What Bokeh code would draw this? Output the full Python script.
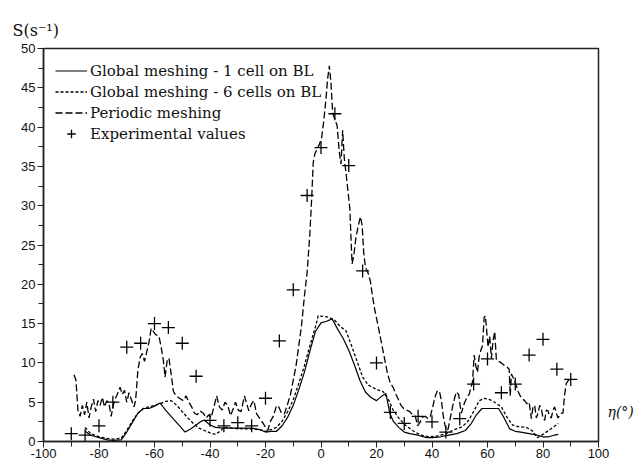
from bokeh.plotting import figure
from bokeh.models import Range1d, FixedTicker, Legend, LegendItem, LinearAxis, Title
from bokeh.embed import file_html
from bokeh.resources import INLINE

# ---------------- data ----------------
exp_x = [-90, -85, -80, -75, -70, -65, -60, -55, -50, -45, -40, -35, -30, -25, -20, -15, -10, -5,
         0, 5, 10, 15, 20, 25, 30, 35, 40, 45, 50, 55, 60, 65, 70, 75, 80, 85, 90]
exp_y = [1.0, 0.8, 2.0, 5.0, 12.0, 12.5, 15.0, 14.5, 12.5, 8.3, 2.7, 2.0, 2.4, 2.0, 5.5, 12.8, 19.3, 31.3,
         37.4, 41.7, 35.1, 21.7, 10.0, 3.7, 2.3, 3.2, 2.5, 1.2, 2.9, 7.3, 10.5, 6.2, 7.3, 11.0, 13.0, 9.2, 7.9]

g1_x = [-85, -83, -80, -77, -75, -72, -70, -68, -66, -64, -62, -60, -58, -56, -54, -52, -50, -49, -47,
        -45, -43, -42, -40, -38, -35, -30, -25, -22, -20, -18, -16, -14, -12, -10, -8, -6, -4, -2, 0, 2,
        4, 6, 8, 10, 12, 14, 16, 18, 20, 22, 23.4, 24.8, 26, 28, 30, 32, 35, 38, 40, 43, 46, 49, 52, 54,
        56, 58, 61, 64, 66, 68, 70, 72, 75, 78, 80, 82, 84, 85.5]
g1_y = [1.3, 0.8, 0.5, 0.2, 0.15, 0.2, 1.2, 2.4, 3.6, 4.2, 4.2, 4.5, 4.9, 4.0, 3.2, 2.4, 1.6, 1.2, 1.6,
        2.1, 2.6, 2.7, 2.1, 1.8, 1.7, 1.7, 1.7, 1.5, 1.2, 1.3, 1.3, 2.0, 3.1, 4.6, 6.6, 8.8, 11.5, 14.0, 15.1, 15.3,
        15.6, 14.3, 13.1, 11.6, 9.8, 7.8, 6.3, 5.6, 5.2, 5.8, 6.1, 3.6, 2.6, 1.8, 1.2, 1.0, 0.8, 0.5, 0.5, 0.6, 0.8, 1.0, 1.4, 2.2,
        3.4, 4.2, 4.2, 4.2, 3.0, 1.6, 1.3, 1.2, 1.0, 0.8, 0.6, 0.6, 0.8, 0.9]

g6_x = [-85, -83, -80, -77, -75, -72, -70, -68, -66, -64, -62, -60, -58, -56, -54, -52, -50, -48, -46,
        -44, -42, -40, -38, -36, -35, -32, -28, -25, -22, -20, -18, -16, -14, -12, -10, -8, -6, -4, -2, -1,
        1, 3, 5, 7, 9, 11, 13, 15, 17, 19, 21, 22.5, 24.5, 26, 28, 30, 33, 36, 39, 42, 45, 48, 51, 53,
        55, 57, 59, 61, 63, 65, 67, 69, 71, 74, 76, 78, 80, 82, 84, 85.5]
g6_y = [1.8, 1.0, 0.6, 0.4, 0.3, 0.4, 1.4, 2.6, 3.6, 4.2, 4.4, 4.6, 4.8, 5.1, 5.2, 4.6, 3.8, 3.0, 2.3,
        1.7, 1.4, 1.1, 0.9, 1.4, 1.8, 1.7, 1.6, 1.6, 1.5, 1.3, 1.5, 1.8, 2.6, 3.8, 5.3, 7.4, 9.6, 12.2, 14.6, 16.0,
        15.9, 15.8, 15.4, 14.6, 14.1, 12.2, 10.2, 8.2, 7.2, 6.8, 6.5, 6.3, 5.2, 4.0, 3.0, 2.2, 1.4, 0.8, 0.6, 0.7, 1.0, 1.5, 1.9, 2.6,
        3.8, 5.2, 5.5, 5.3, 4.9, 4.4, 3.1, 2.1, 1.9, 1.8, 1.4, 0.5, 0.9, 1.4, 1.9, 2.3]

per_x = [-89, -88.3, -87.6, -86.8, -86, -85.2, -84.4, -83.6, -82.8, -82, -81.2, -80.4, -79.6, -78.8, -78,
         -77.2, -76.4, -75.6, -75, -74.2, -73.4, -72.4, -71.6, -70.8, -70, -69.2, -68.4, -67.4, -66.8, -66,
         -65.2, -64.4, -63.6, -62.8, -62, -61.2, -60.4, -59.6, -58.4, -57.6, -56.8, -56.2, -55.4, -54.8, -54,
         -53.2, -52.4, -51.4, -50.6, -49.6, -48.6, -47.6, -46.6, -45.6, -44.6, -43.6, -42.4, -41.4, -40.4, -39.6,
         -38.6, -37.6, -36.6, -35.6, -34.6, -33.6, -32.6, -31.6, -30.8, -29.8, -28.8, -27.6, -26.6, -26, -25,
         -24.2, -23.2, -22, -21, -20, -19.2, -18.2, -17.2, -16, -15.2, -14.2, -13.2, -12, -11, -10,
         -9, -8, -7, -6, -5, -4, -3.3, -2.8, -2.2, -1.4, -0.6, 0.2, 1, 1.8, 2.4,
         3, 3.6, 4.2, 5, 5.8, 6.6, 7.2, 7.8, 8.4, 9, 9.8, 10.4, 10.8, 11.2, 11.8,
         12.6, 13.4, 14.2, 14.8, 15.4, 16, 17, 17.8, 18.6, 19.4, 20.4, 21.2, 22.2, 23.2, 24,
         25, 26, 27, 27.8, 28.8, 29.8, 30.8, 32, 33, 34, 34.8, 35.6, 36.6, 37.6, 38.6,
         39.4, 40.4, 41.2, 42, 42.8, 43.4, 44, 44.6, 45.2, 45.8, 46.6, 47.4, 48.2, 48.8, 49.6,
         50.2, 50.6, 51.2, 51.8, 52.6, 53.4, 54, 54.6, 55.2, 55.8, 56.4, 57, 57.6, 58.2, 58.8,
         59.2, 59.6, 60.2, 60.8, 61.4, 62, 62.6, 63.2, 64, 65, 66, 67, 67.8, 68.2, 68.6,
         69.4, 70.2, 71, 71.8, 72.6, 73.4, 74.2, 75, 75.8, 76.4, 77, 77.6, 78.2, 78.8, 79.4,
         80, 80.6, 81.2, 81.8, 82.4, 83, 83.6, 84.2, 84.8, 85.4, 86, 86.6, 87.2, 87.8, 88.4,
         89.2, 89.8]
per_y = [8.5, 7.8, 4.0, 3.2, 4.6, 3.4, 5.0, 3.0, 4.4, 5.4, 3.8, 5.2, 4.6, 5.6, 4.4,
         5.2, 4.8, 3.2, 4.4, 5.4, 6.0, 6.9, 6.0, 6.5, 5.0, 6.2, 5.4, 4.4, 5.2, 9.0,
         10.7, 11.2, 10.2, 11.4, 12.6, 14.4, 14.0, 13.6, 13.4, 12.0, 10.3, 8.2, 10.4, 10.6, 8.6,
         6.4, 5.9, 5.6, 5.4, 5.2, 5.8, 5.0, 4.4, 3.6, 3.4, 3.9, 3.6, 3.0, 3.4, 3.0,
         4.4, 5.8, 4.4, 4.0, 5.0, 4.6, 3.3, 4.2, 5.0, 4.0, 3.8, 5.8, 4.6, 3.9, 4.8,
         5.2, 3.5, 2.9, 2.4, 1.8, 1.4, 2.6, 3.2, 4.6, 4.4, 3.6, 3.5, 4.8, 6.0, 7.8,
         9.6, 12.2, 14.8, 18.4, 21.5, 26.5, 31.4, 35.5, 36.6, 37.2, 37.8, 38.6, 40.8, 43.6, 46.2,
         47.8, 45.6, 41.8, 41.0, 40.2, 36.8, 35.3, 39.6, 36.0, 34.2, 31.6, 29.6, 26.0, 22.6, 23.6,
         26.0, 27.4, 28.6, 27.6, 24.0, 22.2, 21.4, 20.4, 18.4, 16.7, 15.0, 13.6, 11.8, 10.0, 8.6,
         7.4, 6.9, 6.0, 5.4, 4.6, 4.2, 4.0, 3.8, 3.4, 3.2, 2.0, 2.4, 3.1, 3.2, 2.9,
         3.2, 4.6, 5.8, 6.5, 6.2, 5.2, 3.4, 2.2, 1.4, 1.6, 3.0, 4.4, 5.6, 6.3, 6.0,
         4.4, 3.6, 4.4, 5.0, 5.6, 6.0, 6.8, 7.6, 11.0, 9.6, 8.8, 10.8, 11.6, 12.2, 15.8,
         16.0, 14.6, 12.0, 13.4, 10.6, 12.8, 14.0, 10.4, 10.2, 10.0, 9.7, 9.5, 9.2, 5.8, 8.6,
         8.0, 7.3, 6.4, 5.8, 5.4, 5.2, 4.8, 5.0, 2.9, 4.4, 4.6, 3.0, 3.6, 4.6, 4.2,
         3.0, 2.7, 4.0, 3.9, 3.2, 3.0, 4.0, 4.4, 3.6, 3.0, 3.3, 3.6, 3.6, 6.0, 7.4,
         7.8, 8.0]

x_ticks = [-100, -80, -60, -40, -20, 0, 20, 40, 60, 80, 100]
x_minor = [-90, -70, -50, -30, -10, 10, 30, 50, 70, 90]
y_ticks = [0, 5, 10, 15, 20, 25, 30, 35, 40, 45, 50]
y_minor = [2.5, 7.5, 12.5, 17.5, 22.5, 27.5, 32.5, 37.5, 42.5, 47.5]

legend_labels = ["Global meshing - 1 cell on BL", "Global meshing - 6 cells on BL",
                 "Periodic meshing", "Experimental values"]
y_title = "S(s\u207b\u00b9)"
x_title = "\u03b7(\u00b0)"

# ---------------- figure ----------------
p = figure(width=636, height=461, output_backend="svg", toolbar_location=None,
           x_range=Range1d(-100, 100), y_range=Range1d(0, 50),
           min_border_left=43, min_border_right=37, min_border_top=48, min_border_bottom=20)
p.background_fill_color = "white"
p.border_fill_color = "white"
p.outline_line_color = "#222222"
p.outline_line_width = 1.5
p.xgrid.visible = False
p.ygrid.visible = False

tick_font = "Liberation Sans"
for ax, ticks, minor in ((p.xaxis[0], x_ticks, x_minor), (p.yaxis[0], y_ticks, y_minor)):
    ax.ticker = FixedTicker(ticks=ticks, minor_ticks=minor)
    ax.major_label_overrides = {t: str(t) for t in ticks}
    ax.axis_line_color = "#222222"
    ax.axis_line_width = 1.5
    ax.major_tick_line_color = "#222222"
    ax.minor_tick_line_color = "#222222"
    ax.major_tick_out = 6
    ax.major_tick_in = 0
    ax.minor_tick_out = 5
    ax.minor_tick_in = 0
    ax.major_label_text_font = tick_font
    ax.major_label_text_font_size = "13px"
    ax.major_label_text_color = "#111111"
p.xaxis[0].major_label_standoff = 1
p.yaxis[0].major_label_standoff = 2

r1 = p.line(g1_x, g1_y, line_color="black", line_width=1.2)
r2 = p.line(g6_x, g6_y, line_color="black", line_width=1.3, line_dash="3 2")
r3 = p.line(per_x, per_y, line_color="black", line_width=1.3, line_dash="7 3")
r4 = p.scatter(exp_x, exp_y, marker="cross", size=13, line_color="black", line_width=1.3)

legend = Legend(items=[LegendItem(label=legend_labels[0], renderers=[r1]),
                       LegendItem(label=legend_labels[1], renderers=[r2]),
                       LegendItem(label=legend_labels[2], renderers=[r3]),
                       LegendItem(label=legend_labels[3], renderers=[r4])],
                location="top_left", margin=4, padding=8, spacing=0,
                glyph_width=32, glyph_height=21, label_height=21, label_standoff=3,
                label_text_font="DejaVu Serif", label_text_font_size="15px",
                label_text_color="#111111",
                background_fill_alpha=0, border_line_alpha=0)
p.add_layout(legend, "center")

# y title at the top-left, above the frame
p.add_layout(Title(text=y_title, align="left", offset=-31, standoff=17,
                   text_font="DejaVu Serif", text_font_style="normal",
                   text_font_size="16px", text_color="#111111"), "above")

# x title to the right of the frame, just above the x axis level
eta_level = 3.7
eta_axis = LinearAxis(ticker=FixedTicker(ticks=[eta_level], minor_ticks=[]),
                      major_label_overrides={eta_level: x_title},
                      axis_line_alpha=0, major_tick_line_alpha=0, minor_tick_line_alpha=0,
                      major_tick_out=0, major_tick_in=0, minor_tick_out=0, minor_tick_in=0,
                      major_label_standoff=9, major_label_text_font="DejaVu Serif",
                      major_label_text_font_style="italic", major_label_text_font_size="14px",
                      major_label_text_color="#111111")
p.add_layout(eta_axis, "right")

open("out.html", "w").write(file_html(p, INLINE))
